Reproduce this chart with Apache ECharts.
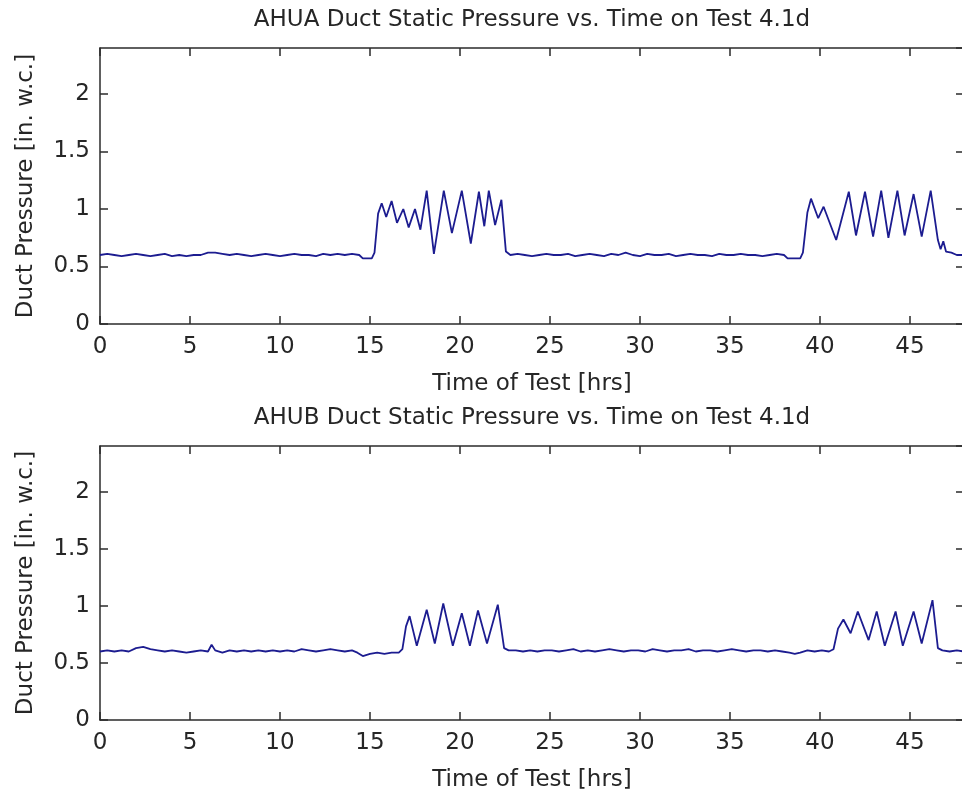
<!DOCTYPE html>
<html><head><meta charset="utf-8">
<script src="https://cdn.jsdelivr.net/npm/echarts@6/dist/echarts.min.js"></script>
<style>html,body{margin:0;padding:0;background:#fff;overflow:hidden}#c{width:966px;height:793px}</style>
</head><body><div id="c"></div>
<script>
const titleA = 'AHUA Duct Static Pressure vs. Time on Test 4.1d';
const titleB = 'AHUB Duct Static Pressure vs. Time on Test 4.1d';
const xName = 'Time of Test [hrs]';
const yName = 'Duct Pressure [in. w.c.]';

const timeA = [0,0.4,0.8,1.2,1.6,2.0,2.4,2.8,3.2,3.6,4.0,4.4,4.8,5.2,5.6,6.0,6.4,6.8,7.2,7.6,8.0,8.4,8.8,9.2,9.6,10.0,10.4,10.8,11.2,11.6,12.0,12.4,12.8,13.2,13.6,14.0,14.4,
 14.6,15.1,15.25,15.45,15.65,15.9,16.2,16.5,16.85,17.15,17.5,17.8,18.15,18.55,19.1,19.55,20.1,20.6,21.05,21.35,21.6,21.95,22.3,22.55,22.8,
 23.2,23.6,24.0,24.4,24.8,25.2,25.6,26.0,26.4,26.8,27.2,27.6,28.0,28.4,28.8,29.2,29.6,30.0,30.4,30.8,31.2,31.6,32.0,32.4,32.8,33.2,33.6,34.0,34.4,34.8,35.2,35.6,36.0,36.4,36.8,37.2,37.6,38.0,
 38.2,38.9,39.05,39.3,39.5,39.9,40.2,40.9,41.6,42.0,42.5,42.95,43.4,43.8,44.3,44.7,45.2,45.65,46.15,46.55,46.7,46.85,47.0,47.3,47.6,48];
const pressA = [0.60,0.61,0.60,0.59,0.60,0.61,0.60,0.59,0.60,0.61,0.59,0.60,0.59,0.60,0.60,0.62,0.62,0.61,0.60,0.61,0.60,0.59,0.60,0.61,0.60,0.59,0.60,0.61,0.60,0.60,0.59,0.61,0.60,0.61,0.60,0.61,0.60,
 0.57,0.57,0.62,0.96,1.05,0.93,1.07,0.88,1.00,0.84,1.00,0.82,1.16,0.61,1.16,0.79,1.16,0.70,1.15,0.85,1.16,0.86,1.08,0.63,0.60,
 0.61,0.60,0.59,0.60,0.61,0.60,0.60,0.61,0.59,0.60,0.61,0.60,0.59,0.61,0.60,0.62,0.60,0.59,0.61,0.60,0.60,0.61,0.59,0.60,0.61,0.60,0.60,0.59,0.61,0.60,0.60,0.61,0.60,0.60,0.59,0.60,0.61,0.60,
 0.57,0.57,0.62,0.97,1.09,0.92,1.02,0.73,1.15,0.77,1.15,0.76,1.16,0.75,1.16,0.77,1.13,0.76,1.16,0.73,0.65,0.72,0.63,0.62,0.60,0.60];

const timeB = [0,0.4,0.8,1.2,1.6,2.0,2.4,2.8,3.2,3.6,4.0,4.4,4.8,5.2,5.6,6.0,6.2,6.4,6.8,7.2,7.6,8.0,8.4,8.8,9.2,9.6,10.0,10.4,10.8,11.2,11.6,12.0,12.4,12.8,13.2,13.6,14.0,
 14.3,14.6,15.0,15.4,15.8,16.2,16.6,16.8,17.0,17.2,17.6,18.15,18.6,19.07,19.6,20.1,20.55,21.0,21.5,22.1,22.45,22.7,
 23.1,23.5,23.9,24.3,24.7,25.1,25.5,25.9,26.3,26.7,27.1,27.5,27.9,28.3,28.7,29.1,29.5,29.9,30.3,30.7,31.1,31.5,31.9,32.3,32.7,33.1,33.5,33.9,34.3,34.7,35.1,35.5,35.9,36.3,36.7,37.1,37.5,37.9,
 38.3,38.6,38.9,39.3,39.7,40.1,40.5,40.75,41.0,41.3,41.7,42.1,42.7,43.15,43.6,44.2,44.6,45.2,45.65,46.25,46.55,46.8,47.2,47.6,48];
const pressB = [0.60,0.61,0.60,0.61,0.60,0.63,0.64,0.62,0.61,0.60,0.61,0.60,0.59,0.60,0.61,0.60,0.66,0.61,0.59,0.61,0.60,0.61,0.60,0.61,0.60,0.61,0.60,0.61,0.60,0.62,0.61,0.60,0.61,0.62,0.61,0.60,0.61,
 0.59,0.56,0.58,0.59,0.58,0.59,0.59,0.62,0.82,0.91,0.65,0.965,0.67,1.02,0.65,0.935,0.65,0.96,0.67,1.01,0.63,0.61,
 0.61,0.60,0.61,0.60,0.61,0.61,0.60,0.61,0.62,0.60,0.61,0.60,0.61,0.62,0.61,0.60,0.61,0.61,0.60,0.62,0.61,0.60,0.61,0.61,0.62,0.60,0.61,0.61,0.60,0.61,0.62,0.61,0.60,0.61,0.61,0.60,0.61,0.60,
 0.59,0.58,0.59,0.61,0.60,0.61,0.60,0.62,0.80,0.88,0.76,0.95,0.70,0.95,0.65,0.95,0.65,0.95,0.67,1.05,0.63,0.61,0.60,0.61,0.60];

const FONT = 'DejaVu Sans';
const TXT = '#262626';
const LINE = {color:'#2b2b2b', width:1.5};
const FS = 23;

function xAxes(gi){
  return [
    {type:'value', gridIndex:gi, min:0, max:48, interval:5, position:'bottom',
     axisLine:{show:true, onZero:false, lineStyle:LINE},
     axisTick:{show:true, inside:true, length:8, lineStyle:LINE},
     splitLine:{show:false},
     axisLabel:{fontFamily:FONT, fontSize:FS, color:TXT, margin:12, showMaxLabel:false},
     name:xName, nameLocation:'middle', nameGap:49,
     nameTextStyle:{fontFamily:FONT, fontSize:FS, color:TXT}},
    {type:'value', gridIndex:gi, min:0, max:48, interval:5, position:'top',
     axisLine:{show:true, onZero:false, lineStyle:LINE},
     axisTick:{show:true, inside:true, length:8, lineStyle:LINE},
     splitLine:{show:false}, axisLabel:{show:false}}
  ];
}
function yAxes(gi){
  return [
    {type:'value', gridIndex:gi, min:0, max:2.4, interval:0.5, position:'left',
     axisLine:{show:true, onZero:false, lineStyle:LINE},
     axisTick:{show:true, inside:true, length:8, lineStyle:LINE},
     splitLine:{show:false},
     axisLabel:{fontFamily:FONT, fontSize:FS, color:TXT, margin:10, showMaxLabel:false},
     name:yName, nameLocation:'middle', nameGap:62,
     nameTextStyle:{fontFamily:FONT, fontSize:FS, color:TXT}},
    {type:'value', gridIndex:gi, min:0, max:2.4, interval:0.5, position:'right',
     axisLine:{show:true, onZero:false, lineStyle:LINE},
     axisTick:{show:true, inside:true, length:8, lineStyle:LINE},
     splitLine:{show:false}, axisLabel:{show:false}}
  ];
}
const zip = (t,p) => t.map((v,i)=>[v,p[i]]);

const chart = echarts.init(document.getElementById('c'), null, {renderer:'canvas'});
chart.setOption({
  animation:false,
  backgroundColor:'#fff',
  title:[
    {text:titleA, left:532, top:9, textAlign:'center', padding:0,
     textStyle:{fontFamily:FONT, fontSize:FS, fontWeight:'normal', color:TXT}},
    {text:titleB, left:532, top:407, textAlign:'center', padding:0,
     textStyle:{fontFamily:FONT, fontSize:FS, fontWeight:'normal', color:TXT}}
  ],
  grid:[
    {left:100, top:48, width:864, height:276},
    {left:100, top:446, width:864, height:276}
  ],
  xAxis:[...xAxes(0), ...xAxes(1)],
  yAxis:[...yAxes(0), ...yAxes(1)],
  series:[
    {type:'line', xAxisIndex:0, yAxisIndex:0, data:zip(timeA,pressA), showSymbol:false,
     lineStyle:{color:'#1c1c90', width:1.8}, itemStyle:{color:'#1c1c90'}},
    {type:'line', xAxisIndex:2, yAxisIndex:2, data:zip(timeB,pressB), showSymbol:false,
     lineStyle:{color:'#1c1c90', width:1.8}, itemStyle:{color:'#1c1c90'}}
  ]
});
</script>
</body></html>
